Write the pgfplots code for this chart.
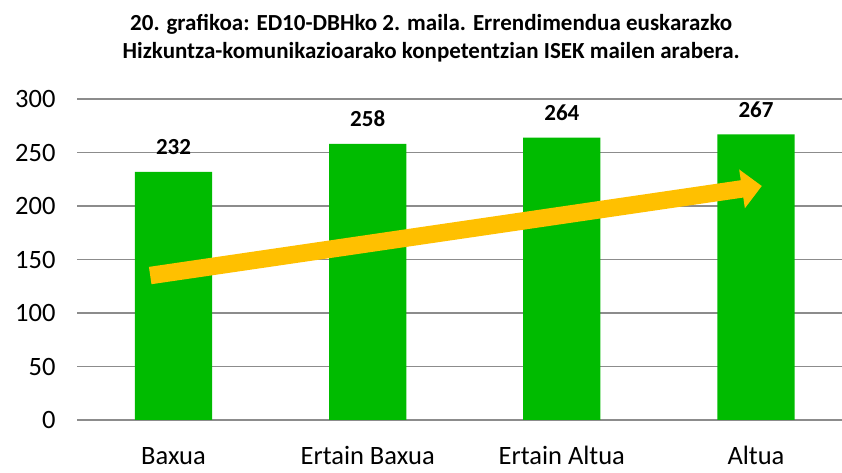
\documentclass[border=0pt]{standalone}
\usepackage{pgfplots}
\pgfplotsset{compat=1.18}
\usepackage{fontspec}
\setmainfont{Carlito}
\usetikzlibrary{arrows.meta}
\definecolor{barg}{HTML}{00BB00}
\definecolor{arrowc}{HTML}{FFC000}
\definecolor{gridc}{HTML}{8C8C8C}
\begin{document}
\begin{tikzpicture}[x=1pt,y=1pt]
\path[use as bounding box] (0,0) rectangle (842,473);
\begin{axis}[
  at={(77pt,53pt)}, anchor=south west,
  scale only axis, width=765pt, height=321pt,
  xmin=-0.497, xmax=3.443, ymin=0, ymax=300,
  xtick={0,1,2,3},
  xticklabels={Baxua, Ertain Baxua, Ertain Altua, Altua},
  ytick={0,50,100,150,200,250,300},
  ymajorgrids, grid style={gridc, line width=1.4pt},
  axis x line*=bottom, axis y line*=left,
  y axis line style={draw=none},
  x axis line style={gridc, line width=1.4pt, -},
  major tick length=0pt,
  ytick style={draw=none}, xtick style={draw=none},
  tick label style={font=\fontsize{26.5}{30}\selectfont},
  xticklabel style={anchor=base, yshift=-45pt, text depth=0pt, inner sep=0pt},
  yticklabel style={xshift=-18pt},
  /pgf/number format/assume math mode=true,
  title={20. grafikoa: ED10-DBHko 2. maila. Errendimendua euskarazko\\Hizkuntza-komunikazioarako konpetentzian ISEK mailen arabera.},
  title style={font=\fontsize{23}{28}\selectfont\bfseries, align=center, at={(0.463,1.172)}, anchor=center},
  clip=false,
]
\addplot[ybar, bar width=0.398, fill=barg, draw=none,
  nodes near coords, every node near coord/.append style={font=\fontsize{23}{26}\selectfont\bfseries, anchor=center, yshift=25pt, text=black},
  ] coordinates {(0,232) (1,258) (2,264) (3,267)};
\addplot[arrowc, line width=17.5pt, -{Triangle[width=38pt,length=20pt]}] coordinates {(-0.12,135) (3.03,218.7)};
\end{axis}
\end{tikzpicture}
\end{document}
